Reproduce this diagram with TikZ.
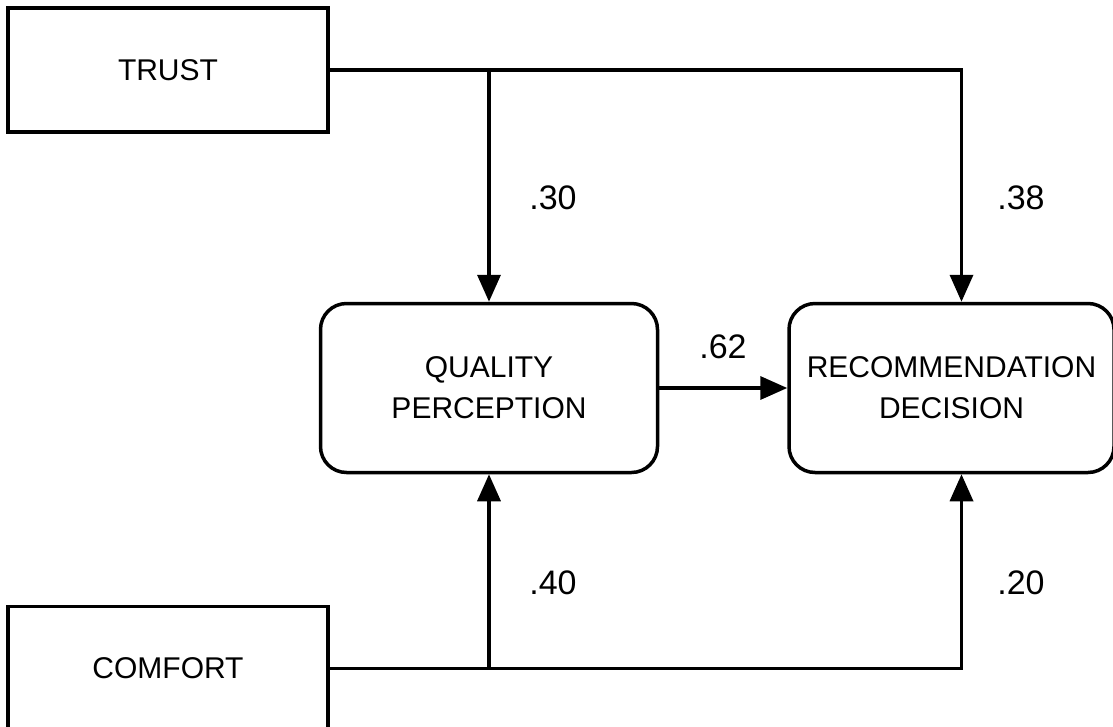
\documentclass[tikz,border=0pt]{standalone}
\usepackage{fontspec}
\setmainfont{Liberation Sans}
\usepackage{tikz}
\usetikzlibrary{positioning,arrows.meta}

\begin{document}
\begin{tikzpicture}[
  x=1pt, y=-1pt,
  var/.style={rectangle, draw, line width=3.5pt, minimum width=320pt,
              minimum height=124pt, align=center,
              font=\fontsize{30}{41}\selectfont},
  outcome/.style={rectangle, draw, rounded corners=26pt, line width=3.5pt,
              minimum width=337pt, minimum height=169pt, align=center,
              font=\fontsize{30}{41}\selectfont},
  coef/.style={font=\fontsize{34}{38}\selectfont},
  >={Triangle[length=27pt,width=23pt]}, line width=3.5pt
]
  \useasboundingbox (0,0) rectangle (1113,726);

  \node[var] (trust) at (168,70) {TRUST};
  \node[var, below=471pt of trust] (comfort) {COMFORT};
  \node[outcome] (qp) at (489,388) {QUALITY\\PERCEPTION};
  \node[outcome, right=128pt of qp, minimum width=325pt] (rd) {RECOMMENDATION\\DECISION};

  \coordinate (rdin) at ([xshift=10pt]rd.north);
  \coordinate (rdout) at ([xshift=10pt]rd.south);

  \draw[->] (trust.east) -| (rdin);
  \draw[->] (trust.east -| qp.north) -- (qp.north);
  \draw[->] (comfort.east) -| (rdout);
  \draw[->] (comfort.east -| qp.south) -- (qp.south);
  \draw[->] (qp.east) -- (rd.west);

  % path coefficients
  \node[coef] (c1) at (553,198) {.30};
  \node[coef] (c2) at (1021,198) {.38};
  \node[coef] (c3) at (723,347) {.62};
  \node[coef] (c4) at (553,583) {.40};
  \node[coef] (c5) at (1021,583) {.20};
\end{tikzpicture}
\end{document}
